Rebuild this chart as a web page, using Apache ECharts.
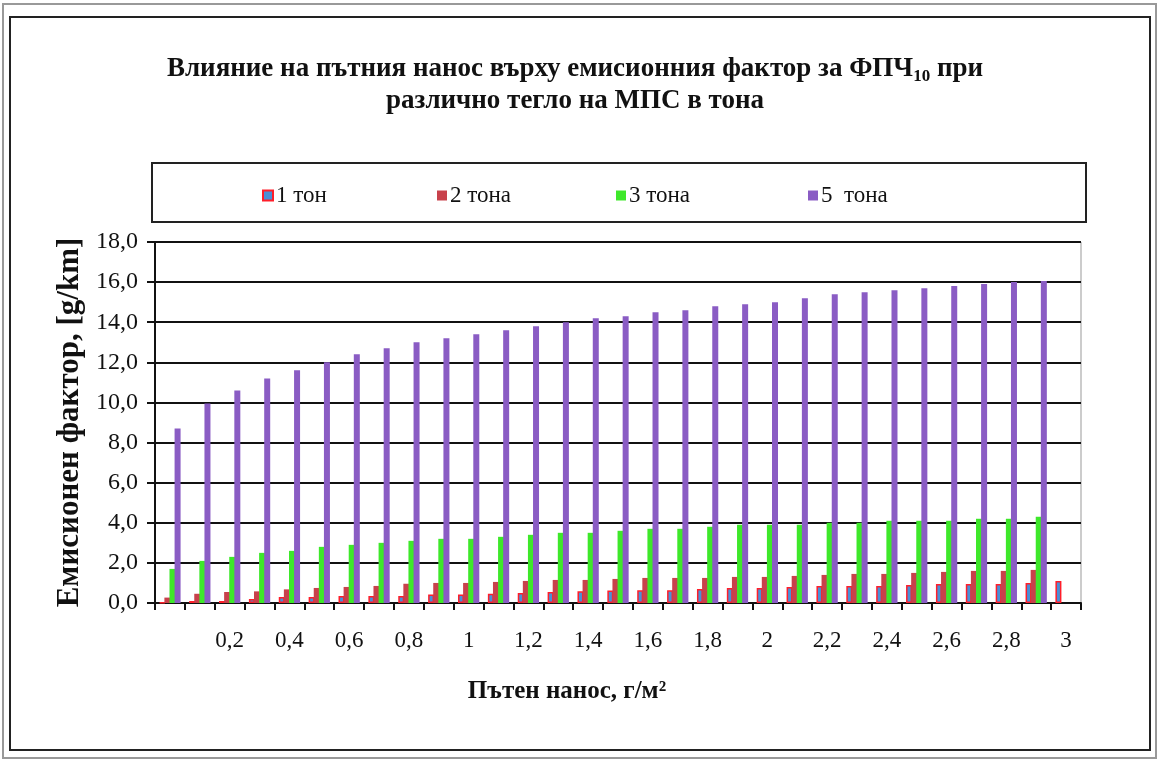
<!DOCTYPE html>
<html>
<head>
<meta charset="utf-8">
<script src="https://cdn.jsdelivr.net/npm/echarts@6/dist/echarts.min.js"></script>
<style>
html,body{margin:0;padding:0;background:#fff;}
#chart{width:1160px;height:760px;}
</style>
</head>
<body>
<div id="chart"></div>
<script>
// Categories: road dust loading, g/m2
var categories = ["0","0,1","0,2","0,3","0,4","0,5","0,6","0,7","0,8","0,9","1","1,1","1,2","1,3","1,4","1,5","1,6","1,7","1,8","1,9","2","2,1","2,2","2,3","2,4","2,5","2,6","2,7","2,8","2,9","3"];
var seriesNames = ["1 тон", "2 тона", "3 тона", "5  тона"];
var ton1 = [0.03,0.1,0.1,0.2,0.3,0.3,0.35,0.35,0.35,0.43,0.43,0.46,0.5,0.55,0.58,0.62,0.63,0.63,0.7,0.75,0.75,0.8,0.85,0.85,0.85,0.9,0.95,0.95,0.95,1.0,1.1];
var ton2 = [0.27,0.46,0.55,0.58,0.68,0.75,0.8,0.85,0.96,1.0,1.0,1.05,1.1,1.15,1.15,1.2,1.25,1.25,1.25,1.3,1.3,1.35,1.4,1.45,1.45,1.5,1.55,1.6,1.6,1.65,null];
var ton3 = [1.7,2.1,2.3,2.5,2.6,2.8,2.9,3.0,3.1,3.2,3.2,3.3,3.4,3.5,3.5,3.6,3.7,3.7,3.8,3.9,3.9,3.9,4.0,4.0,4.1,4.1,4.1,4.2,4.2,4.3,null];
var ton5 = [8.7,9.95,10.6,11.2,11.6,12.0,12.4,12.7,13.0,13.2,13.4,13.6,13.8,14.0,14.2,14.3,14.5,14.6,14.8,14.9,15.0,15.2,15.4,15.5,15.6,15.7,15.8,15.9,16.0,16.05,null];
var yTicks = {min: 0, max: 18, interval: 2};
var titleLine1a = "Влияние на пътния нанос върху емисионния фактор за ФПЧ";
var titleSub = "10";
var titleLine1b = " при";
var titleLine2 = "различно тегло на МПС в тона";
var xName = "Пътен нанос, г/м²";
var yName = "Емисионен фактор, [g/km]";

var serif = "'Liberation Serif', 'DejaVu Serif', serif";
var colors = ["#4a8fd6", "#c8414b", "#3ee82a", "#8a5cc4"];

var chart = echarts.init(document.getElementById('chart'), null, {renderer: 'canvas'});

function legendFor(i, left) {
  return {
    show: true, left: left, top: 179, orient: 'horizontal',
    itemWidth: 10, itemHeight: 10, itemGap: 0,
    icon: 'rect',
    data: [seriesNames[i]],
    textStyle: {fontFamily: serif, fontSize: 23, color: '#111', padding: [0,0,0,-2]}
  };
}

var option = {
  backgroundColor: '#fff',
  animation: false,
  title: {
    text: '{b|' + titleLine1a + '}{s|' + titleSub + '}{b|' + titleLine1b + '}\n{b|' + titleLine2 + '}',
    left: 570, top: 48,
    textAlign: 'center',
    textStyle: {
      align: 'center',
      rich: {
        b: {fontFamily: serif, fontWeight: 'bold', fontSize: 27, color: '#111', lineHeight: 32, align: 'center'},
        s: {fontFamily: serif, fontWeight: 'bold', fontSize: 17, color: '#111', lineHeight: 20, verticalAlign: 'bottom', align: 'center'}
      }
    }
  },
  legend: [legendFor(0, 257), legendFor(1, 432), legendFor(2, 611), legendFor(3, 803)],
  grid: {left: 155, right: 79, top: 242, bottom: 157, show: true, borderColor: '#999', borderWidth: 1},
  xAxis: {
    type: 'category',
    data: categories,
    boundaryGap: true,
    name: xName,
    nameLocation: 'middle',
    nameGap: 76,
    nameTextStyle: {fontFamily: serif, fontWeight: 'bold', fontSize: 25, color: '#111', padding: [0, 102, 0, 0]},
    axisLine: {show: true, lineStyle: {color: '#111', width: 2}},
    axisTick: {show: true, interval: 0, length: 7, lineStyle: {color: '#111', width: 2}},
    axisLabel: {
      interval: function (index) { return index > 0 && index % 2 === 0; },
      margin: 26,
      fontFamily: serif, fontSize: 23, color: '#111'
    },
    splitLine: {show: false}
  },
  yAxis: {
    type: 'value',
    min: yTicks.min, max: yTicks.max, interval: yTicks.interval,
    name: yName,
    nameLocation: 'middle',
    nameGap: 65,
    nameTextStyle: {fontFamily: serif, fontWeight: 'bold', fontSize: 31, color: '#111'},
    axisLine: {show: true, lineStyle: {color: '#111', width: 2}},
    axisTick: {show: true, length: 8, lineStyle: {color: '#111', width: 2}},
    axisLabel: {
      formatter: function (v) { return v.toFixed(1).replace('.', ','); },
      margin: 17,
      fontFamily: serif, fontSize: 24, color: '#111'
    },
    splitLine: {show: true, lineStyle: {color: '#111', width: 2}}
  },
  series: [
    {name: seriesNames[0], type: 'bar', data: ton1, barWidth: 6, barGap: '-15%',
     itemStyle: {color: colors[0], borderColor: '#ff1e2a', borderWidth: 1.5}},
    {name: seriesNames[1], type: 'bar', data: ton2, barWidth: 6, barGap: '-15%',
     itemStyle: {color: colors[1]}},
    {name: seriesNames[2], type: 'bar', data: ton3, barWidth: 6, barGap: '-15%',
     itemStyle: {color: colors[2]}},
    {name: seriesNames[3], type: 'bar', data: ton5, barWidth: 6, barGap: '-15%',
     itemStyle: {color: colors[3]}}
  ],
  graphic: [
    {type: 'rect', silent: true, z: -10, shape: {x: 3, y: 4, width: 1153, height: 754},
     style: {fill: 'none', stroke: '#999', lineWidth: 2}},
    {type: 'rect', silent: true, z: -10, shape: {x: 10, y: 17, width: 1140, height: 733},
     style: {fill: 'none', stroke: '#222', lineWidth: 2}},
    {type: 'rect', silent: true, z: -10, shape: {x: 152, y: 163, width: 934, height: 59},
     style: {fill: 'none', stroke: '#222', lineWidth: 2}}
  ]
};
chart.setOption(option);
</script>
</body>
</html>
